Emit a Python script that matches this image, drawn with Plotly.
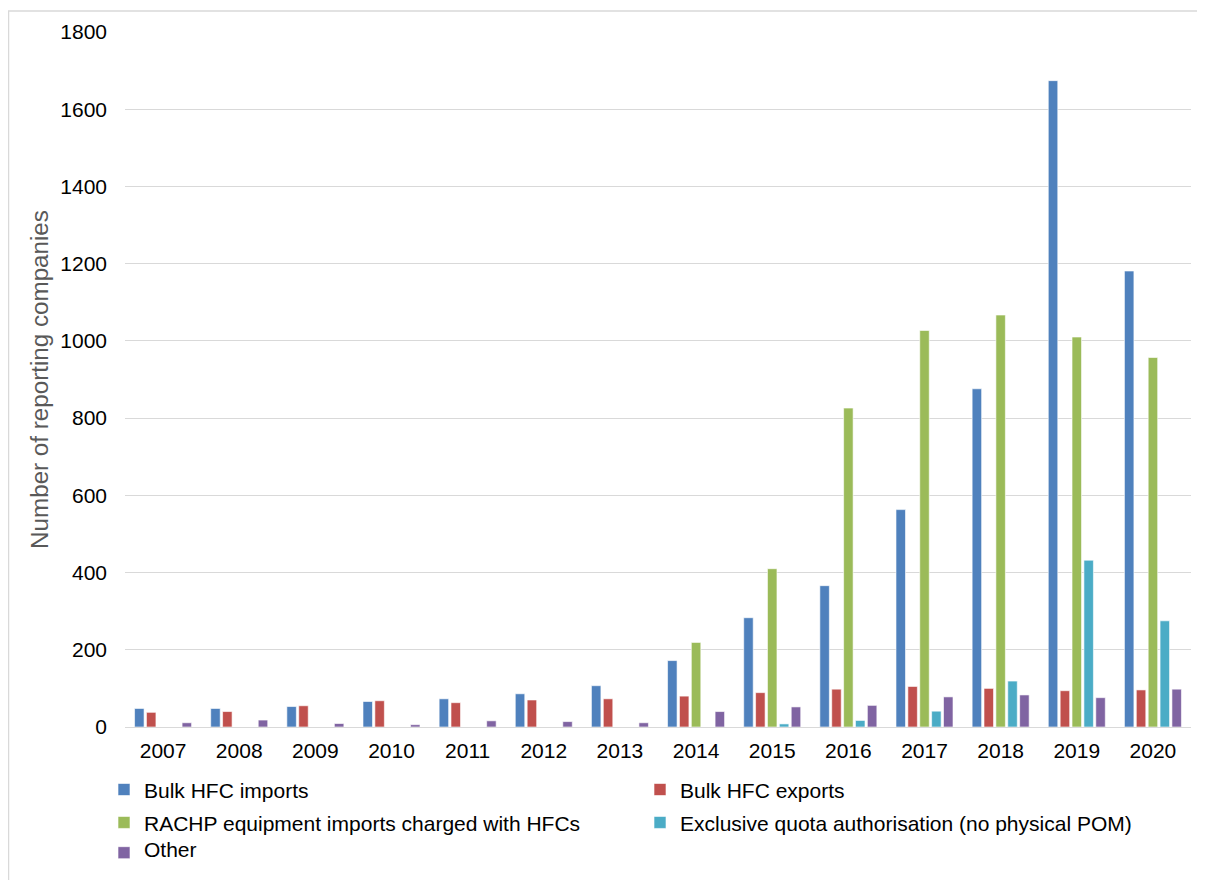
import plotly.graph_objects as go

years = ["2007", "2008", "2009", "2010", "2011", "2012", "2013",
         "2014", "2015", "2016", "2017", "2018", "2019", "2020"]

bulk_imports = [48, 48, 53, 66, 73, 86, 107, 172, 283, 366, 563, 876, 1674, 1181]
bulk_exports = [38, 40, 55, 68, 63, 70, 73, 80, 89, 98, 105, 100, 94, 96]
rachp_imports = [0, 0, 0, 0, 0, 0, 0, 219, 410, 826, 1027, 1067, 1010, 957]
exclusive_quota = [0, 0, 0, 0, 0, 0, 0, 0, 8, 17, 41, 119, 432, 275]
other = [11, 18, 9, 6, 16, 14, 11, 40, 52, 56, 78, 83, 76, 98]

series_names = [
    "Bulk HFC imports",
    "Bulk HFC exports",
    "RACHP equipment imports charged with HFCs",
    "Exclusive quota authorisation (no physical POM)",
    "Other",
]
series_values = [bulk_imports, bulk_exports, rachp_imports, exclusive_quota, other]
colors = ["#4F81BD", "#C0504D", "#9BBB59", "#4BACC6", "#8064A2"]
legend_rows = ["legend", "legend", "legend2", "legend2", "legend3"]

fig = go.Figure()
for name, vals, col, lg in zip(series_names, series_values, colors, legend_rows):
    fig.add_trace(go.Bar(
        x=years, y=vals, legend=lg,
        name='<span style="font-size:21px">' + name + '</span>',
        marker=dict(color=col, line=dict(color="rgba(255,255,255,0.6)", width=1)),
    ))

W, H = 1197, 872
L, R, T, B = 117, 14, 22, 153
pw = W - L - R
ph = H - T - B
plot_bottom = H - B


def legend_cfg(top_fig, font_size):
    return dict(
        orientation="h", x=(104 - 125) / pw, xanchor="left",
        y=(plot_bottom - top_fig) / ph, yanchor="top",
        entrywidth=491, entrywidthmode="pixels",
        font=dict(size=font_size, color="#000000"),
        traceorder="normal", itemclick=False, bgcolor="rgba(0,0,0,0)",
    )


fig.update_layout(
    width=W, height=H,
    margin=dict(l=L, r=R, t=T, b=B),
    paper_bgcolor="white", plot_bgcolor="white",
    barmode="group", bargap=0.22, bargroupgap=0.2,
    font=dict(family="Liberation Sans, Arial, sans-serif", size=21, color="#000000"),
    xaxis=dict(
        showgrid=False, showline=True, linecolor="#D9D9D9", linewidth=1,
        ticks="", ticklabelstandoff=5, tickfont=dict(size=21, color="#000000"),
    ),
    yaxis=dict(
        range=[0, 1800], dtick=200, showgrid=True, gridcolor="#D9D9D9", gridwidth=1,
        zeroline=False, showline=False, ticks="", ticklabelstandoff=17,
        tickfont=dict(size=21, color="#000000"),
        title=dict(text="Number of reporting companies", standoff=4,
                   font=dict(size=24.2, color="#595959")),
    ),
    legend=legend_cfg(761.5, 21),
    legend2=legend_cfg(794.5, 21),
    legend3=legend_cfg(830.5, 12),
    shapes=[dict(
        type="rect", xref="paper", yref="paper",
        x0=(0.5 - L) / pw, x1=(W + 5 - L) / pw,
        y0=(H - B - (H + 5)) / ph, y1=(H - B - 1) / ph,
        line=dict(color="#D9D9D9", width=1.5), fillcolor="rgba(0,0,0,0)",
        layer="below",
    )],
)

fig.write_html("out.html")
